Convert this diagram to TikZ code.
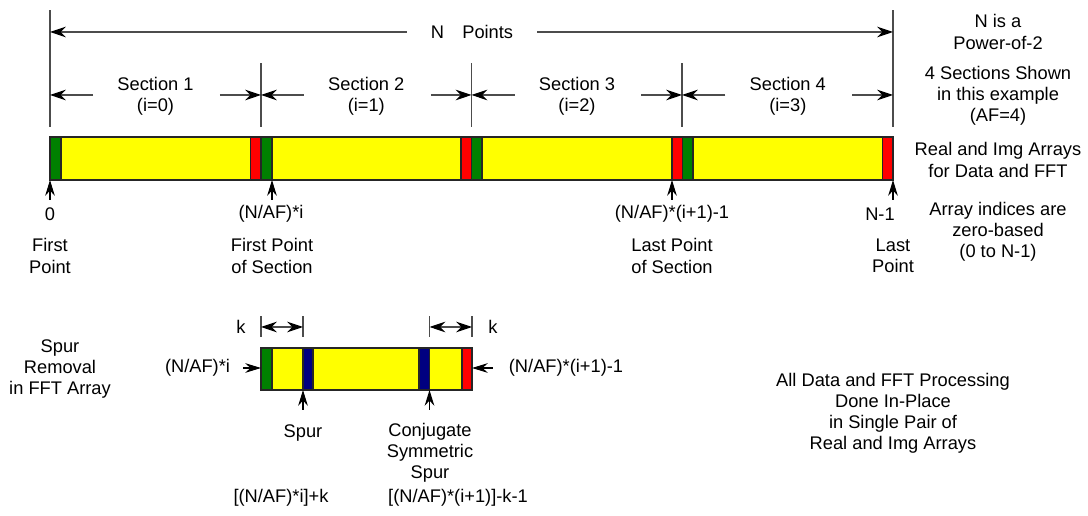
\documentclass[tikz,border=0pt]{standalone}
\usepackage{fontspec}
\setmainfont{Liberation Sans}
\usetikzlibrary{arrows.meta,positioning,calc}
\definecolor{cellgreen}{RGB}{0,128,0}
\definecolor{cellred}{RGB}{255,0,0}
\definecolor{cellyellow}{RGB}{255,255,0}
\definecolor{cellblue}{RGB}{0,0,128}

\begin{document}
\begin{tikzpicture}[
    x=0.02cm, y=-0.02cm,
    font=\fontsize{10.4pt}{12pt}\selectfont,
    lbl/.style={inner sep=0pt, align=center},
    extline/.style={draw=black!70, line width=0.6pt},
    dimarrow/.style={-{Stealth[length=9pt,width=6pt,inset=3pt,black]}, draw=black!70, line width=0.6pt},
    twoway/.style={{Stealth[length=9pt,width=6pt,inset=3pt,black]}-{Stealth[length=9pt,width=6pt,inset=3pt,black]}, draw=black!70, line width=0.6pt},
    ptr/.style={-{Stealth[length=9pt,width=5.5pt,inset=3pt]}, black, line width=0.6pt},
    cell/.style={draw=black!85, line width=0.6pt}
]
    \useasboundingbox (0,0) rectangle (1088,516);

    % Section boundaries
    \coordinate (b0) at (50,127);
    \coordinate (b1) at (261,127);
    \coordinate (b2) at (471.5,127);
    \coordinate (b3) at (682,127);
    \coordinate (b4) at (893,127);
    \draw[extline] (b0) -- ++(0,-117);
    \draw[extline] (b4) -- ++(0,-117);
    \draw[extline] (b1) -- ++(0,-64);
    \draw[extline] (b2) -- ++(0,-64);
    \draw[extline] (b3) -- ++(0,-64);

    % N points
    \node[lbl] (npts) at (472,32) {N\quad Points};
    \draw[dimarrow] ($(npts.west)+(-24,0)$) -- (b0 |- npts);
    \draw[dimarrow] ($(npts.east)+(24,0)$) -- (b4 |- npts);

    % Sections
    \node[lbl] (sec1) at (155.5,96) {Section 1\\(i=0)};
    \node[lbl] (sec2) at (366.3,96) {Section 2\\(i=1)};
    \node[lbl] (sec3) at (577,96) {Section 3\\(i=2)};
    \node[lbl] (sec4) at (787.8,96) {Section 4\\(i=3)};
    \draw[dimarrow] ($(sec1.west)+(-24,-1)$) -- ($(b0 |- sec1)+(0,-1)$);
    \draw[dimarrow] ($(sec1.east)+(26,-1)$) -- ($(b1 |- sec1)+(0,-1)$);
    \draw[dimarrow] ($(sec2.west)+(-24,-1)$) -- ($(b1 |- sec2)+(0,-1)$);
    \draw[dimarrow] ($(sec2.east)+(26,-1)$) -- ($(b2 |- sec2)+(0,-1)$);
    \draw[dimarrow] ($(sec3.west)+(-24,-1)$) -- ($(b2 |- sec3)+(0,-1)$);
    \draw[dimarrow] ($(sec3.east)+(26,-1)$) -- ($(b3 |- sec3)+(0,-1)$);
    \draw[dimarrow] ($(sec4.west)+(-24,-1)$) -- ($(b3 |- sec4)+(0,-1)$);
    \draw[dimarrow] ($(sec4.east)+(26,-1)$) -- ($(b4 |- sec4)+(0,-1)$);

    % Data and FFT arrays
    \draw[cell, fill=cellyellow] (50,137) rectangle (893,180);
    \draw[cell, fill=cellgreen] (50,137) rectangle (61,180);
    \draw[cell, fill=cellred] (250.5,137) rectangle (261,180);
    \draw[cell, fill=cellgreen] (261,137) rectangle (272,180);
    \draw[cell, fill=cellred] (461,137) rectangle (471.5,180);
    \draw[cell, fill=cellgreen] (471.5,137) rectangle (482,180);
    \draw[cell, fill=cellred] (672,137) rectangle (682.5,180);
    \draw[cell, fill=cellgreen] (682.5,137) rectangle (693,180);
    \draw[cell, fill=cellred] (882.5,137) rectangle (893,180);

    % Index pointers
    \coordinate (first) at (50,180);
    \coordinate (firsttail) at (50,200);
    \coordinate (secfirst) at (272,180);
    \coordinate (secfirsttail) at (272,200);
    \coordinate (seclast) at (672,180);
    \coordinate (seclasttail) at (672,200);
    \coordinate (last) at (893,180);
    \coordinate (lasttail) at (893,200);
    \draw[ptr] (firsttail) -- (first);
    \draw[ptr] (secfirsttail) -- (secfirst);
    \draw[ptr] (seclasttail) -- (seclast);
    \draw[ptr] (lasttail) -- (last);

    \node[lbl] (idx0) at (50,214) {0};
    \node[lbl] (idxfirst) at (271,214) {(N/AF)*i};
    \node[lbl] (idxlast) at (672,214) {(N/AF)*(i+1)-1};
    \node[lbl] (idxn) at (880,214) {N-1};
    \node[lbl] (firstpt) at (50,256) {First\\Point};
    \node[lbl] (secfirstpt) at (272,256) {First Point\\of Section};
    \node[lbl] (seclastpt) at (672,256) {Last Point\\of Section};
    \node[lbl] (lastpt) at (893,256) {Last\\Point};

    % Notes on the right
    \node[lbl] (pow2) at (998,32) {N is a\\Power-of-2};
    \node[lbl] (nsec) at (998,95.5) {4 Sections Shown\\in this example\\(AF=4)};
    \node[lbl] (arrays) at (998,160) {Real and Img Arrays\\for Data and FFT};
    \node[lbl] (zerobased) at (998,232) {Array indices are\\zero-based\\(0 to N-1)};

    % Spur removal in one section
    \node[lbl] (removal) at (60,369) {Spur\\Removal\\in FFT Array};
    \draw[cell, fill=cellyellow] (261,348) rectangle (472,390);
    \draw[cell, fill=cellgreen] (261,348) rectangle (272,390);
    \draw[cell, fill=cellblue] (303,348) rectangle (313,390);
    \draw[cell, fill=cellblue] (419,348) rectangle (429.5,390);
    \draw[cell, fill=cellred] (462,348) rectangle (472,390);

    % k offsets
    \coordinate (ka) at (261,337);
    \coordinate (kb) at (303,337);
    \coordinate (kc) at (429.5,337);
    \coordinate (kd) at (472,337);
    \draw[extline] (ka) -- ++(0,-21);
    \draw[extline] (kb) -- ++(0,-21);
    \draw[extline] (kc) -- ++(0,-21);
    \draw[extline] (kd) -- ++(0,-21);
    \draw[twoway] ($(ka)+(0,-10)$) -- ($(kb)+(0,-10)$);
    \draw[twoway] ($(kc)+(0,-10)$) -- ($(kd)+(0,-10)$);
    \node[lbl] (kleft) at (241,327) {k};
    \node[lbl] (kright) at (493,327) {k};

    % Section ends
    \node[lbl] (startidx) at (197.5,368) {(N/AF)*i};
    \node[lbl] (endidx) at (566,368) {(N/AF)*(i+1)-1};
    \coordinate (secstart) at (261,368);
    \coordinate (secend) at (472,368);
    \draw[ptr] ($(startidx.east)+(13,0)$) -- (secstart);
    \draw[ptr] ($(endidx.west)+(-16,0)$) -- (secend);

    % Spur pointers
    \coordinate (spur) at (303,390);
    \coordinate (spurtail) at (303,410);
    \coordinate (conj) at (429.5,390);
    \coordinate (conjtail) at (429.5,410);
    \draw[ptr] (spurtail) -- (spur);
    \draw[ptr] (conjtail) -- (conj);
    \node[lbl] (spurlbl) at (303,433) {Spur};
    \node[lbl] (conjlbl) at (430,453) {Conjugate\\Symmetric\\Spur};
    \node[lbl] (spuridx) at (281,498) {[(N/AF)*i]+k};
    \node[lbl] (conjidx) at (458,498) {[(N/AF)*(i+1)]-k-1};

    % Processing note
    \node[lbl] (inplace) at (893,413) {All Data and FFT Processing\\Done In-Place\\in Single Pair of\\Real and Img Arrays};
\end{tikzpicture}
\end{document}
